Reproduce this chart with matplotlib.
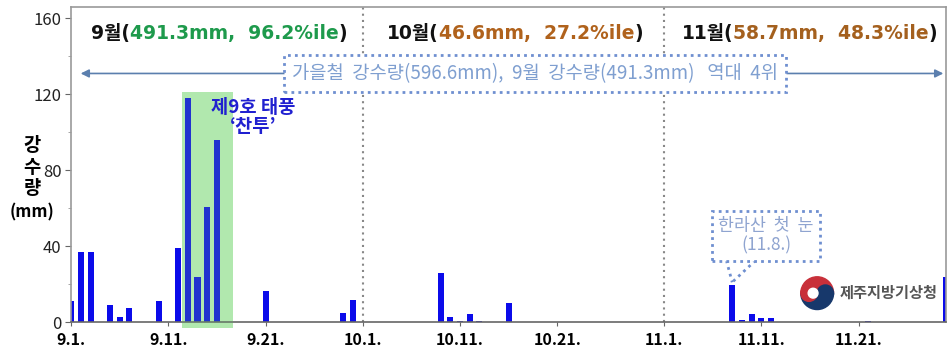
import numpy as np
import pandas as pd
import matplotlib
matplotlib.use("Agg")
import matplotlib.pyplot as plt
from matplotlib.patches import Rectangle, Wedge, Circle

plt.rcParams['font.family'] = ['Noto Sans CJK KR', 'DejaVu Sans']

# daily rainfall (mm), only rainy days listed
rain_dates = ["9.1", "9.2", "9.3", "9.5", "9.6", "9.7", "9.10", "9.12", "9.13", "9.14",
              "9.15", "9.16", "9.21", "9.29", "9.30",
              "10.9", "10.10", "10.11", "10.12", "10.13", "10.16", "10.30",
              "11.8", "11.9", "11.10", "11.11", "11.12", "11.22", "11.30"]
rain_mm = [11, 37, 37, 9, 2.5, 7.5, 11, 39, 118, 23.5,
           60.5, 96, 16.5, 5, 11.5,
           26, 2.5, 0.5, 4.5, 0.5, 10, 0.3,
           19.5, 1, 4.5, 2, 2, 0.8, 24]
tick_dates = ["9.1", "9.11", "9.21", "10.1", "10.11", "10.21", "11.1", "11.11", "11.21"]
month_starts = ["10.1", "11.1"]
month_titles = [("9월(", "491.3mm,  96.2%ile", ")"),
                ("10월(", "46.6mm,  27.2%ile", ")"),
                ("11월(", "58.7mm,  48.3%ile", ")")]
month_colors = ["#1e9a4c", "#b0621c", "#a4601e"]

start = pd.Timestamp("2021-09-01")


def day_index(s):
    m, d = s.split(".")
    return (pd.Timestamp(2021, int(m), int(d)) - start).days


x = np.array([day_index(s) for s in rain_dates])

fig = plt.figure(figsize=(9.48, 3.52), dpi=100)
ax = fig.add_axes([0.075, 0.085, 0.923, 0.895])

ax.bar(x, rain_mm, width=0.62, color="#0b0bea", zorder=2)
# typhoon period highlight: light green behind, faint tint over the bars
ax.add_patch(Rectangle((11.4, -3), 5.3, 124, facecolor="#c4f4c0",
                       edgecolor="none", zorder=1, clip_on=False))
ax.add_patch(Rectangle((11.4, -3), 5.3, 124, facecolor="#70c070", alpha=0.22,
                       edgecolor="none", zorder=3, clip_on=False))

ax.set_xlim(0, 90)
ax.set_ylim(0, 166)
ax.set_yticks([0, 40, 80, 120, 160])
ax.set_yticks([20, 60, 100, 140], minor=True)
ax.set_xticks([day_index(s) for s in tick_dates])
ax.set_xticklabels([s + "." for s in tick_dates], fontweight="bold", fontsize=11.5)
ax.tick_params(axis="y", labelsize=12, length=4, color="#666666", labelcolor="#222222", pad=3)
ax.tick_params(axis="y", which="minor", length=2, color="#999999")
ax.tick_params(axis="x", length=3, color="#666666", pad=4)
for sp in ax.spines.values():
    sp.set_color("#999999")
    sp.set_linewidth(1.2)
ax.spines["bottom"].set_color("#666666")

for s in month_starts:
    ax.axvline(day_index(s), color="#888888", linestyle=(0, (1, 2)), linewidth=1.5, zorder=1)

# month titles with mixed colours
fig.canvas.draw()
renderer = fig.canvas.get_renderer()
title_fam = ['DejaVu Sans', 'Noto Sans CJK KR']
title_x = [2.0, 32.5, 62.8]
for (a, b, c), col, tx in zip(month_titles, month_colors, title_x):
    t = ax.text(tx, 152, a, fontsize=13.5, fontweight="bold", color="#111111", va="center",
                family=title_fam)
    for piece, pc in ((b, col), (c, "#111111")):
        bb = t.get_window_extent(renderer)
        t = ax.annotate(piece, xy=(bb.x1, bb.y0), xycoords="figure pixels",
                        fontsize=13.5, fontweight="bold", color=pc, va="bottom",
                        family=title_fam)

# autumn record arrow and box
ax.annotate("", xy=(0.7, 131), xytext=(90, 131),
            arrowprops=dict(arrowstyle="<|-|>", color="#5b7fae", lw=1.2, mutation_scale=12))
ax.text(47.7, 131, "가을철  강수량(596.6mm),  9월  강수량(491.3mm)   역대  4위",
        fontsize=13.5, color="#7f9fd0", ha="center", va="center", zorder=5,
        bbox=dict(boxstyle="square,pad=0.42", facecolor="white", edgecolor="#6f8fd0",
                  linestyle=(0, (1, 1.5)), linewidth=2))

ax.text(18.7, 108, "제9호 태풍\n‘찬투’", fontsize=13.5, fontweight="bold", color="#2020d0",
        ha="center", va="center", linespacing=1.05, zorder=5)

# first snow callout
snow_x = day_index("11.8")
ax.text(snow_x + 3.5, 45.5, "한라산  첫  눈\n(11.8.)", fontsize=12.5, color="#8fa4d0",
        ha="center", va="center", linespacing=1.1, zorder=5,
        bbox=dict(boxstyle="square,pad=0.35", facecolor="white", edgecolor="#6f8fd0",
                  linestyle=(0, (1, 1.5)), linewidth=2))
for bx in (snow_x - 0.6, snow_x + 2.4):
    ax.plot([bx, snow_x], [32.5, 21], color="#6f8fd0", linestyle=(0, (1, 1.5)), lw=2, zorder=4)

# logo
logo = fig.add_axes([0.843, 0.116, 0.038, 0.1023])
logo.set_xlim(-1.1, 1.1)
logo.set_ylim(-1.1, 1.1)
logo.set_aspect("equal")
logo.axis("off")
logo.add_patch(Wedge((0, 0), 1, 0, 180, color="#c8303a"))
logo.add_patch(Wedge((0, 0), 1, 180, 360, color="#17386b"))
logo.add_patch(Circle((0.5, 0), 0.5, color="#17386b"))
logo.add_patch(Circle((-0.5, 0), 0.5, color="#c8303a"))
logo.add_patch(Circle((-0.25, 0.0), 0.3, color="white"))
fig.text(0.886, 0.168, "제주지방기상청", fontsize=11, fontweight="bold", color="#555555",
         va="center", ha="left")

fig.text(0.034, 0.525, "강\n수\n량", fontsize=13.5, fontweight="bold", ha="center", va="center",
         linespacing=1.15)
fig.text(0.034, 0.395, "(mm)", fontsize=12, fontweight="bold", ha="center", va="center")

fig.savefig("out.png", dpi=100)
